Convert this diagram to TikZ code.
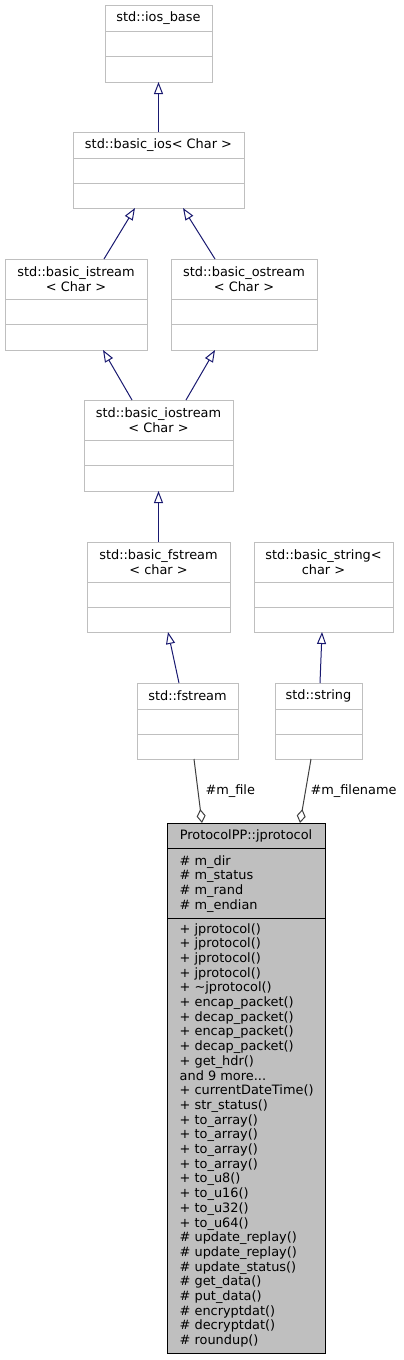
\documentclass[tikz,border=0pt]{standalone}
\usepackage{fontspec}
\setmainfont{DejaVu Sans}
\usetikzlibrary{arrows.meta, calc}

\definecolor{edgeblue}{HTML}{191970}
\definecolor{boxgray}{HTML}{BFBFBF}
\definecolor{aggray}{HTML}{404040}

\tikzset{
	classbox/.style={rectangle, draw=boxgray, fill=white, line width=1pt, inner sep=0pt, outer sep=0pt},
	mainbox/.style={rectangle, draw=black, fill=boxgray, line width=1pt, inner sep=0pt, outer sep=0pt},
	sepline/.style={draw=boxgray, line width=1pt},
	classtitle/.style={align=center, inner sep=0pt},
	member/.style={anchor=base west, inner sep=0pt},
	inherit/.style={draw=edgeblue, line width=1pt, -{Triangle[length=12pt, width=9pt, fill=white]}},
	aggreg/.style={draw=aggray, line width=1pt, {Diamond[length=14pt, width=9pt, fill=white]}-}
}

\begin{document}
\begin{tikzpicture}[
			x = 1pt,
			y = -1pt,
			font = \fontsize{12.9}{14.7}\selectfont
			]
			\useasboundingbox (0,0) rectangle (404,1360);
			
			% Define classes
			\node[classbox, minimum width=107pt, minimum height=77pt] (iosbase) at (158.5,43.5) {};
			\node[classbox, minimum width=171pt, minimum height=76pt] (basicios) at (158.5,170) {};
			\node[classbox, minimum width=142pt, minimum height=91pt] (istream) at (76,304.5) {};
			\node[classbox, minimum width=146pt, minimum height=91pt] (ostream) at (244,304.5) {};
			\node[classbox, minimum width=149pt, minimum height=91pt] (iostream) at (158.5,445.5) {};
			\node[classbox, minimum width=143pt, minimum height=90pt] (bfstream) at (158.5,587) {};
			\node[classbox, minimum width=139pt, minimum height=90pt] (bstring) at (323.5,587) {};
			\node[classbox, minimum width=101pt, minimum height=76pt] (fstream) at (187.5,721) {};
			\node[classbox, minimum width=87pt, minimum height=76pt] (stdstring) at (318.5,721) {};
			\node[mainbox, minimum width=158pt, minimum height=530pt] (jprot) at (246,1088) {};
			
			% Compartments
			\foreach \n/\s in {iosbase/26.5, basicios/26, istream/40, ostream/40, iostream/40, bfstream/40, bstring/40, fstream/26, stdstring/26} {
				\draw[sepline] ($(\n.north west)+(0,\s)$) -- ($(\n.north east)+(0,\s)$);
				\draw[sepline] ($(\n.north west)+(0,\s+25)$) -- ($(\n.north east)+(0,\s+25)$);
			}
			\draw[line width=1pt] ($(jprot.north west)+(0,25)$) -- ($(jprot.north east)+(0,25)$);
			\draw[line width=1pt] ($(jprot.north west)+(0,95)$) -- ($(jprot.north east)+(0,95)$);
			
			% Class names
			\node[classtitle] (iosbasename) at ($(iosbase.north)+(0,13.5)$) {std::ios\_base};
			\node[classtitle] (basiciosname) at ($(basicios.north)+(0,13)$) {std::basic\_ios< Char >};
			\node[classtitle] (istreamname) at ($(istream.north)+(0,20)$) {std::basic\_istream\\< Char >};
			\node[classtitle] (ostreamname) at ($(ostream.north)+(0,20)$) {std::basic\_ostream\\< Char >};
			\node[classtitle] (iostreamname) at ($(iostream.north)+(0,20)$) {std::basic\_iostream\\< Char >};
			\node[classtitle] (bfstreamname) at ($(bfstream.north)+(0,20)$) {std::basic\_fstream\\< char >};
			\node[classtitle] (bstringname) at ($(bstring.north)+(0,20)$) {std::basic\_string<\\char >};
			\node[classtitle] (fstreamname) at ($(fstream.north)+(0,13)$) {std::fstream};
			\node[classtitle] (stdstringname) at ($(stdstring.north)+(0,13)$) {std::string};
			\node[classtitle] (jprotname) at ($(jprot.north)+(0,12.5)$) {ProtocolPP::jprotocol};
			
			% Members
			\foreach \t [count=\i from 0] in {\# m\_dir, \# m\_status, \# m\_rand, \# m\_endian}
				\node[member] (attr\i) at ($(jprot.north west)+(12.5,42+\i*14.7)$) {\t};
			\foreach \t [count=\i from 0] in {+ jprotocol(), + jprotocol(), + jprotocol(), + jprotocol(),
				+ \textasciitilde jprotocol(), + encap\_packet(), + decap\_packet(), + encap\_packet(),
				+ decap\_packet(), + get\_hdr(), {and 9 more.{}..}, + currentDateTime(), + str\_status(),
				+ to\_array(), + to\_array(), + to\_array(), + to\_array(), + to\_u8(), + to\_u16(),
				+ to\_u32(), + to\_u64(), \# update\_replay(), \# update\_replay(), \# update\_status(),
				\# get\_data(), \# put\_data(), \# encryptdat(), \# decryptdat(), \# roundup()}
				\node[member] (meth\i) at ($(jprot.north west)+(12.5,110+\i*14.7)$) {\t};
			
			% Define inheritance
			\draw[inherit] (basicios.north) -- (iosbase.south);
			\draw[inherit] ([xshift=28pt]istream.north) -- ([xshift=-23.5pt]basicios.south);
			\draw[inherit] ([xshift=-29pt]ostream.north) -- ([xshift=24.5pt]basicios.south);
			\draw[inherit] ([xshift=-26.5pt]iostream.north) -- ([xshift=27pt]istream.south);
			\draw[inherit] ([xshift=27.5pt]iostream.north) -- ([xshift=-29pt]ostream.south);
			\draw[inherit] (bfstream.north) -- (iostream.south);
			\draw[inherit] ([xshift=-8.5pt]fstream.north) -- ([xshift=9.5pt]bfstream.south);
			\draw[inherit] ([xshift=1.5pt]stdstring.north) -- ([xshift=-1.5pt]bstring.south);
			
			% Define aggregation
			\draw[aggreg] ([xshift=-44pt]jprot.north) -- ([xshift=6.5pt]fstream.south)
				node[midway, anchor=west, inner sep=0pt, xshift=7pt] (filelabel) {\#m\_file};
			\draw[aggreg] ([xshift=54pt]jprot.north) -- ([xshift=-7.5pt]stdstring.south)
				node[midway, anchor=west, inner sep=0pt, xshift=4.5pt] (namelabel) {\#m\_filename};
			
		\end{tikzpicture}
\end{document}
